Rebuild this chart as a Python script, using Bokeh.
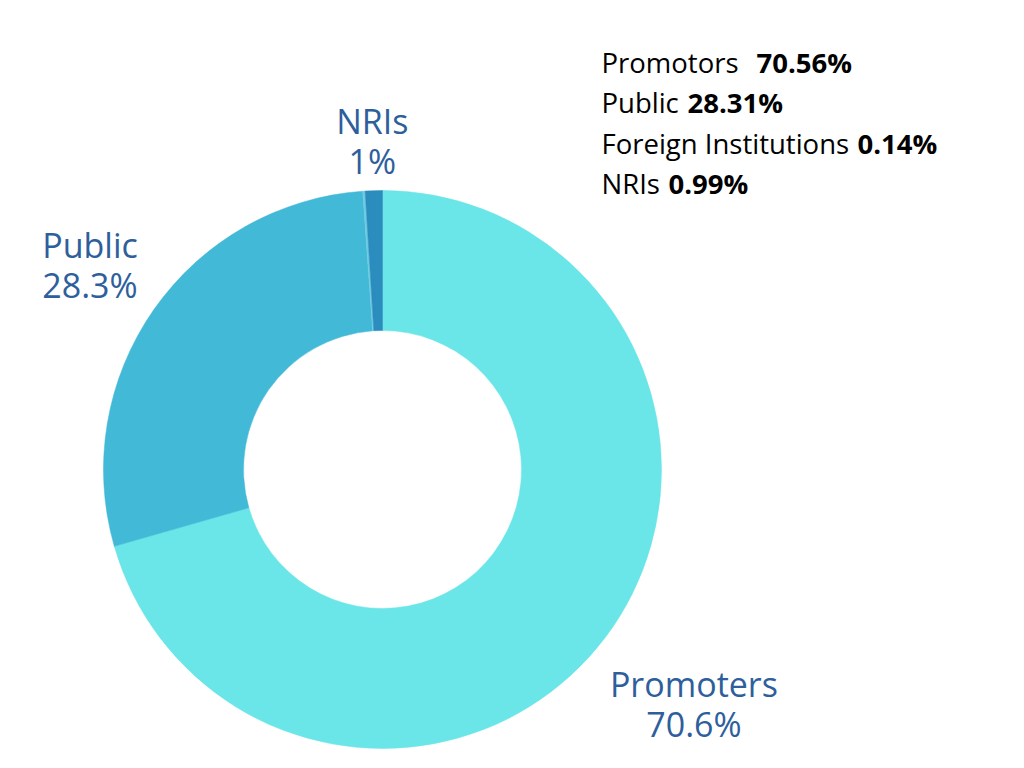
import math
from bokeh.plotting import figure
from bokeh.models import Range1d, ColumnDataSource
from bokeh.core.properties import value
from bokeh.embed import file_html
from bokeh.resources import INLINE

# ---- data ----
categories = ["Promoters", "Public", "Foreign Institutions", "NRIs"]
shares = [70.56, 28.31, 0.14, 0.99]
slice_labels = ["Promoters", "Public", "", "NRIs"]
slice_pcts = ["70.6%", "28.3%", "", "1%"]
legend_names = ["Promotors", "Public", "Foreign Institutions", "NRIs"]
legend_values = ["70.56%", "28.31%", "0.14%", "0.99%"]

# ---- style ----
colors = ["#6ae5e8", "#42b9d6", "#6fcbe2", "#2b8cbe"]
label_color = "#2e5f9c"
FONT = "Open Sans"
W, H = 1008, 752
cx, cy = 382, H - 469
r_out, r_in = 279, 139
label_r = [390, 357, 0, 329]

p = figure(width=W, height=H, x_range=Range1d(0, W), y_range=Range1d(0, H),
           output_backend="svg", toolbar_location=None, min_border=0)
p.axis.visible = False
p.grid.visible = False
p.outline_line_color = None
p.background_fill_color = "white"
p.border_fill_color = "white"

total = sum(shares)
starts, ends, mids = [], [], []
acc = 0.0
for s in shares:
    a0 = math.pi / 2 - 2 * math.pi * acc / total
    acc += s
    a1 = math.pi / 2 - 2 * math.pi * acc / total
    starts.append(a0)
    ends.append(a1)
    mids.append((a0 + a1) / 2)

src = ColumnDataSource(dict(x=[cx] * 4, y=[cy] * 4, start=starts, end=ends,
                            color=colors, cat=categories))
p.annular_wedge(x="x", y="y", inner_radius=r_in, outer_radius=r_out,
                start_angle="start", end_angle="end", direction="clock",
                fill_color="color", line_color="color", line_width=0.5, source=src)

lx, ly, ln, lp = [], [], [], []
for m, r, n, pc in zip(mids, label_r, slice_labels, slice_pcts):
    if not n:
        continue
    lx.append(cx + r * math.cos(m))
    ly.append(cy + r * math.sin(m))
    ln.append(n)
    lp.append(pc)
lsrc = ColumnDataSource(dict(x=lx, y=ly, name=ln, pct=lp))
p.text(x="x", y="y", text="name", source=lsrc, text_align="center",
       text_baseline="alphabetic", y_offset=-20, text_font=value(FONT),
       text_font_size="34px", text_color=label_color)
p.text(x="x", y="y", text="pct", source=lsrc, text_align="center",
       text_baseline="alphabetic", y_offset=20, text_font=value(FONT),
       text_font_size="34px", text_color=label_color)

# legend block (top right)
leg_x = 601
leg_y = [H - 62, H - 102, H - 143, H - 183]
val_x = [756, 687, 857, 668]
p.text(x=[leg_x] * 4, y=leg_y, text=legend_names, text_align="left",
       text_baseline="alphabetic", text_font=value(FONT), text_font_size="27.5px",
       text_color="black")
p.text(x=val_x, y=leg_y, text=legend_values, text_align="left",
       text_baseline="alphabetic", text_font=value(FONT), text_font_size="27.5px",
       text_font_style="bold", text_color="black")

open("out.html", "w").write(file_html(p, INLINE))
